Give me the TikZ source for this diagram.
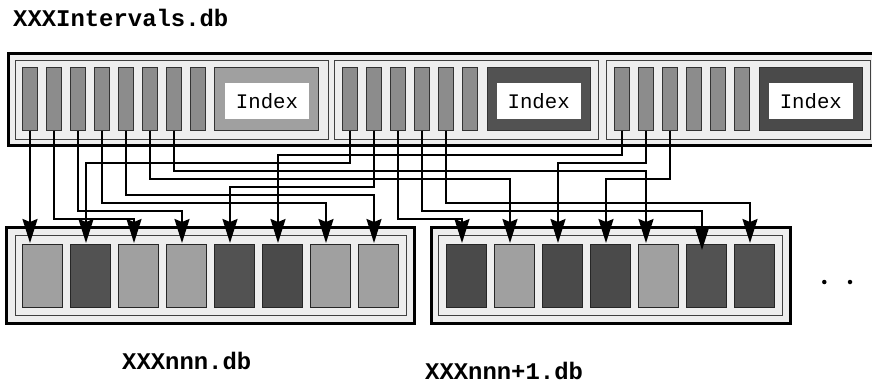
\documentclass[tikz,border=0pt]{standalone}
\usepackage{fontspec}
\setmonofont{Liberation Mono}
\usetikzlibrary{arrows.meta}
\definecolor{bgL}{HTML}{EEEEEE}
\definecolor{barG}{HTML}{8C8C8C}
\definecolor{lightB}{HTML}{A0A0A0}
\definecolor{darkA}{HTML}{525252}
\definecolor{darkB}{HTML}{4A4A4A}
\begin{document}
\begin{tikzpicture}[x=1pt,y=-1pt,
  box/.style={inner sep=0pt,outer sep=0pt},
  outerbox/.style={box,draw=black,line width=3pt,fill=bgL},
  innerbox/.style={box,draw=black!75,line width=1pt,fill=bgL},
  bar/.style={box,draw=black!80,line width=1pt,fill=barG,minimum width=15.5pt,minimum height=63.4pt},
  idxbox/.style={box,draw=black!80,line width=1pt,minimum width=104pt,minimum height=63.4pt},
  idxlabel/.style={box,fill=white,minimum width=84pt,minimum height=36.3pt,font=\fontsize{20.7}{24}\selectfont\ttfamily},
  block/.style={box,draw=black!85,line width=1pt,minimum width=39.8pt,minimum height=63.3pt},
  conn/.style={line width=2pt,-{Stealth[length=24pt,width=15pt,inset=3pt]}},
  title/.style={anchor=base west,inner sep=0pt,font=\fontsize{23.9}{28}\selectfont\ttfamily\bfseries},
  dot/.style={circle,fill=black,inner sep=0pt,minimum size=4.5pt}
]
\useasboundingbox (0,0) rectangle (872,384);

% title
\node[title] (ttl) at (13,26.7) {XXXIntervals.db};

% top container
\node[outerbox,minimum width=872pt,minimum height=92pt] (top) at (444,99) {};
\node[innerbox,minimum width=313pt,minimum height=79pt] (ib1) at (171.5,99.5) {};
\node[innerbox,minimum width=263.6pt,minimum height=79pt] (ib2) at (466.5,99.5) {};
\node[innerbox,minimum width=264pt,minimum height=79pt] (ib3) at (738.7,99.5) {};

\foreach \k in {1,...,8}{
  \node[bar] (t1b\k) at ({30+24*(\k-1)},99) {};
}
\foreach \k in {1,...,6}{
  \node[bar] (t2b\k) at ({350+24*(\k-1)},99) {};
  \node[bar] (t3b\k) at ({622+24*(\k-1)},99) {};
}
\node[idxbox,fill=lightB] (ix1) at (266.3,99) {};
\node[idxbox,fill=darkA,minimum width=103.7pt] (ix2) at (538.85,99) {};
\node[idxbox,fill=darkB,minimum width=103.7pt] (ix3) at (810.85,99) {};
\node[idxlabel] (il1) at (267,100.85) {Index};
\node[idxlabel] (il2) at (538.7,100.85) {Index};
\node[idxlabel,minimum width=83.7pt] (il3) at (810.85,100.85) {Index};

% bottom containers
\node[outerbox,minimum width=407.6pt,minimum height=96pt] (bo1) at (210.5,275.3) {};
\node[innerbox,minimum width=391.7pt,minimum height=80.4pt] (bi1) at (210.85,275.5) {};
\node[outerbox,minimum width=359.7pt,minimum height=96pt] (bo2) at (610.85,275.3) {};
\node[innerbox,minimum width=344.4pt,minimum height=79.6pt] (bi2) at (610.5,275.5) {};

\foreach \k/\c in {1/lightB,2/darkA,3/lightB,4/lightB,5/darkA,6/darkB,7/lightB,8/lightB}{
  \node[block,fill=\c] (bb1\k) at ({42.6+48*(\k-1)},275.65) {};
}
\foreach \k/\c in {1/darkB,2/lightB,3/darkB,4/darkB,5/lightB,6/darkA,7/darkA}{
  \node[block,fill=\c] (bb2\k) at ({466.7+48*(\k-1)},275.65) {};
}

% arrow end points
\coordinate (a1) at (30,243);
\coordinate (a2) at (86,243);
\coordinate (a3) at (134,243);
\coordinate (a4) at (182,243);
\coordinate (a5) at (230,243);
\coordinate (a6) at (278,243);
\coordinate (a7) at (326,243);
\coordinate (a8) at (374,243);
\coordinate (c1) at (462,243);
\coordinate (c2) at (510,243);
\coordinate (c3) at (558,243);
\coordinate (c4) at (606,243);
\coordinate (c5) at (646,243);
\coordinate (c6) at (702,250);
\coordinate (c7) at (750,243);

% connectors
\draw[conn] (t1b1.south) -- (a1);
\draw[conn] (t2b1.south) |- (a2 |- 0,163) -- (a2);
\draw[conn] (t1b2.south) |- (a3 |- 0,219) -- (a3);
\draw[conn] (t1b3.south) |- (a4 |- 0,211) -- (a4);
\draw[conn] (t2b2.south) |- (a5 |- 0,187) -- (a5);
\draw[conn] (t3b1.south) |- (a6 |- 0,155) -- (a6);
\draw[conn] (t1b4.south) |- (a7 |- 0,203) -- (a7);
\draw[conn] (t1b5.south) |- (a8 |- 0,195) -- (a8);
\draw[conn] (t2b3.south) |- (c1 |- 0,219) -- (c1);
\draw[conn] (t1b6.south) |- (c2 |- 0,179) -- (c2);
\draw[conn] (t3b2.south) |- (c3 |- 0,163) -- (c3);
\draw[conn] (t3b3.south) |- (c4 |- 0,179) -- (c4);
\draw[conn] (t1b7.south) |- (c5 |- 0,171) -- (c5);
\draw[conn] (t2b4.south) |- (c6 |- 0,211) -- (c6);
\draw[conn] (t2b5.south) |- (c7 |- 0,203) -- (c7);

% dots
\node[dot] (d1) at (824.3,282) {};
\node[dot] (d2) at (850,282) {};

% labels
\node[title] (l1) at (122,369.5) {XXXnnn.db};
\node[title] (l2) at (425,379.5) {XXXnnn+1.db};
\end{tikzpicture}
\end{document}
